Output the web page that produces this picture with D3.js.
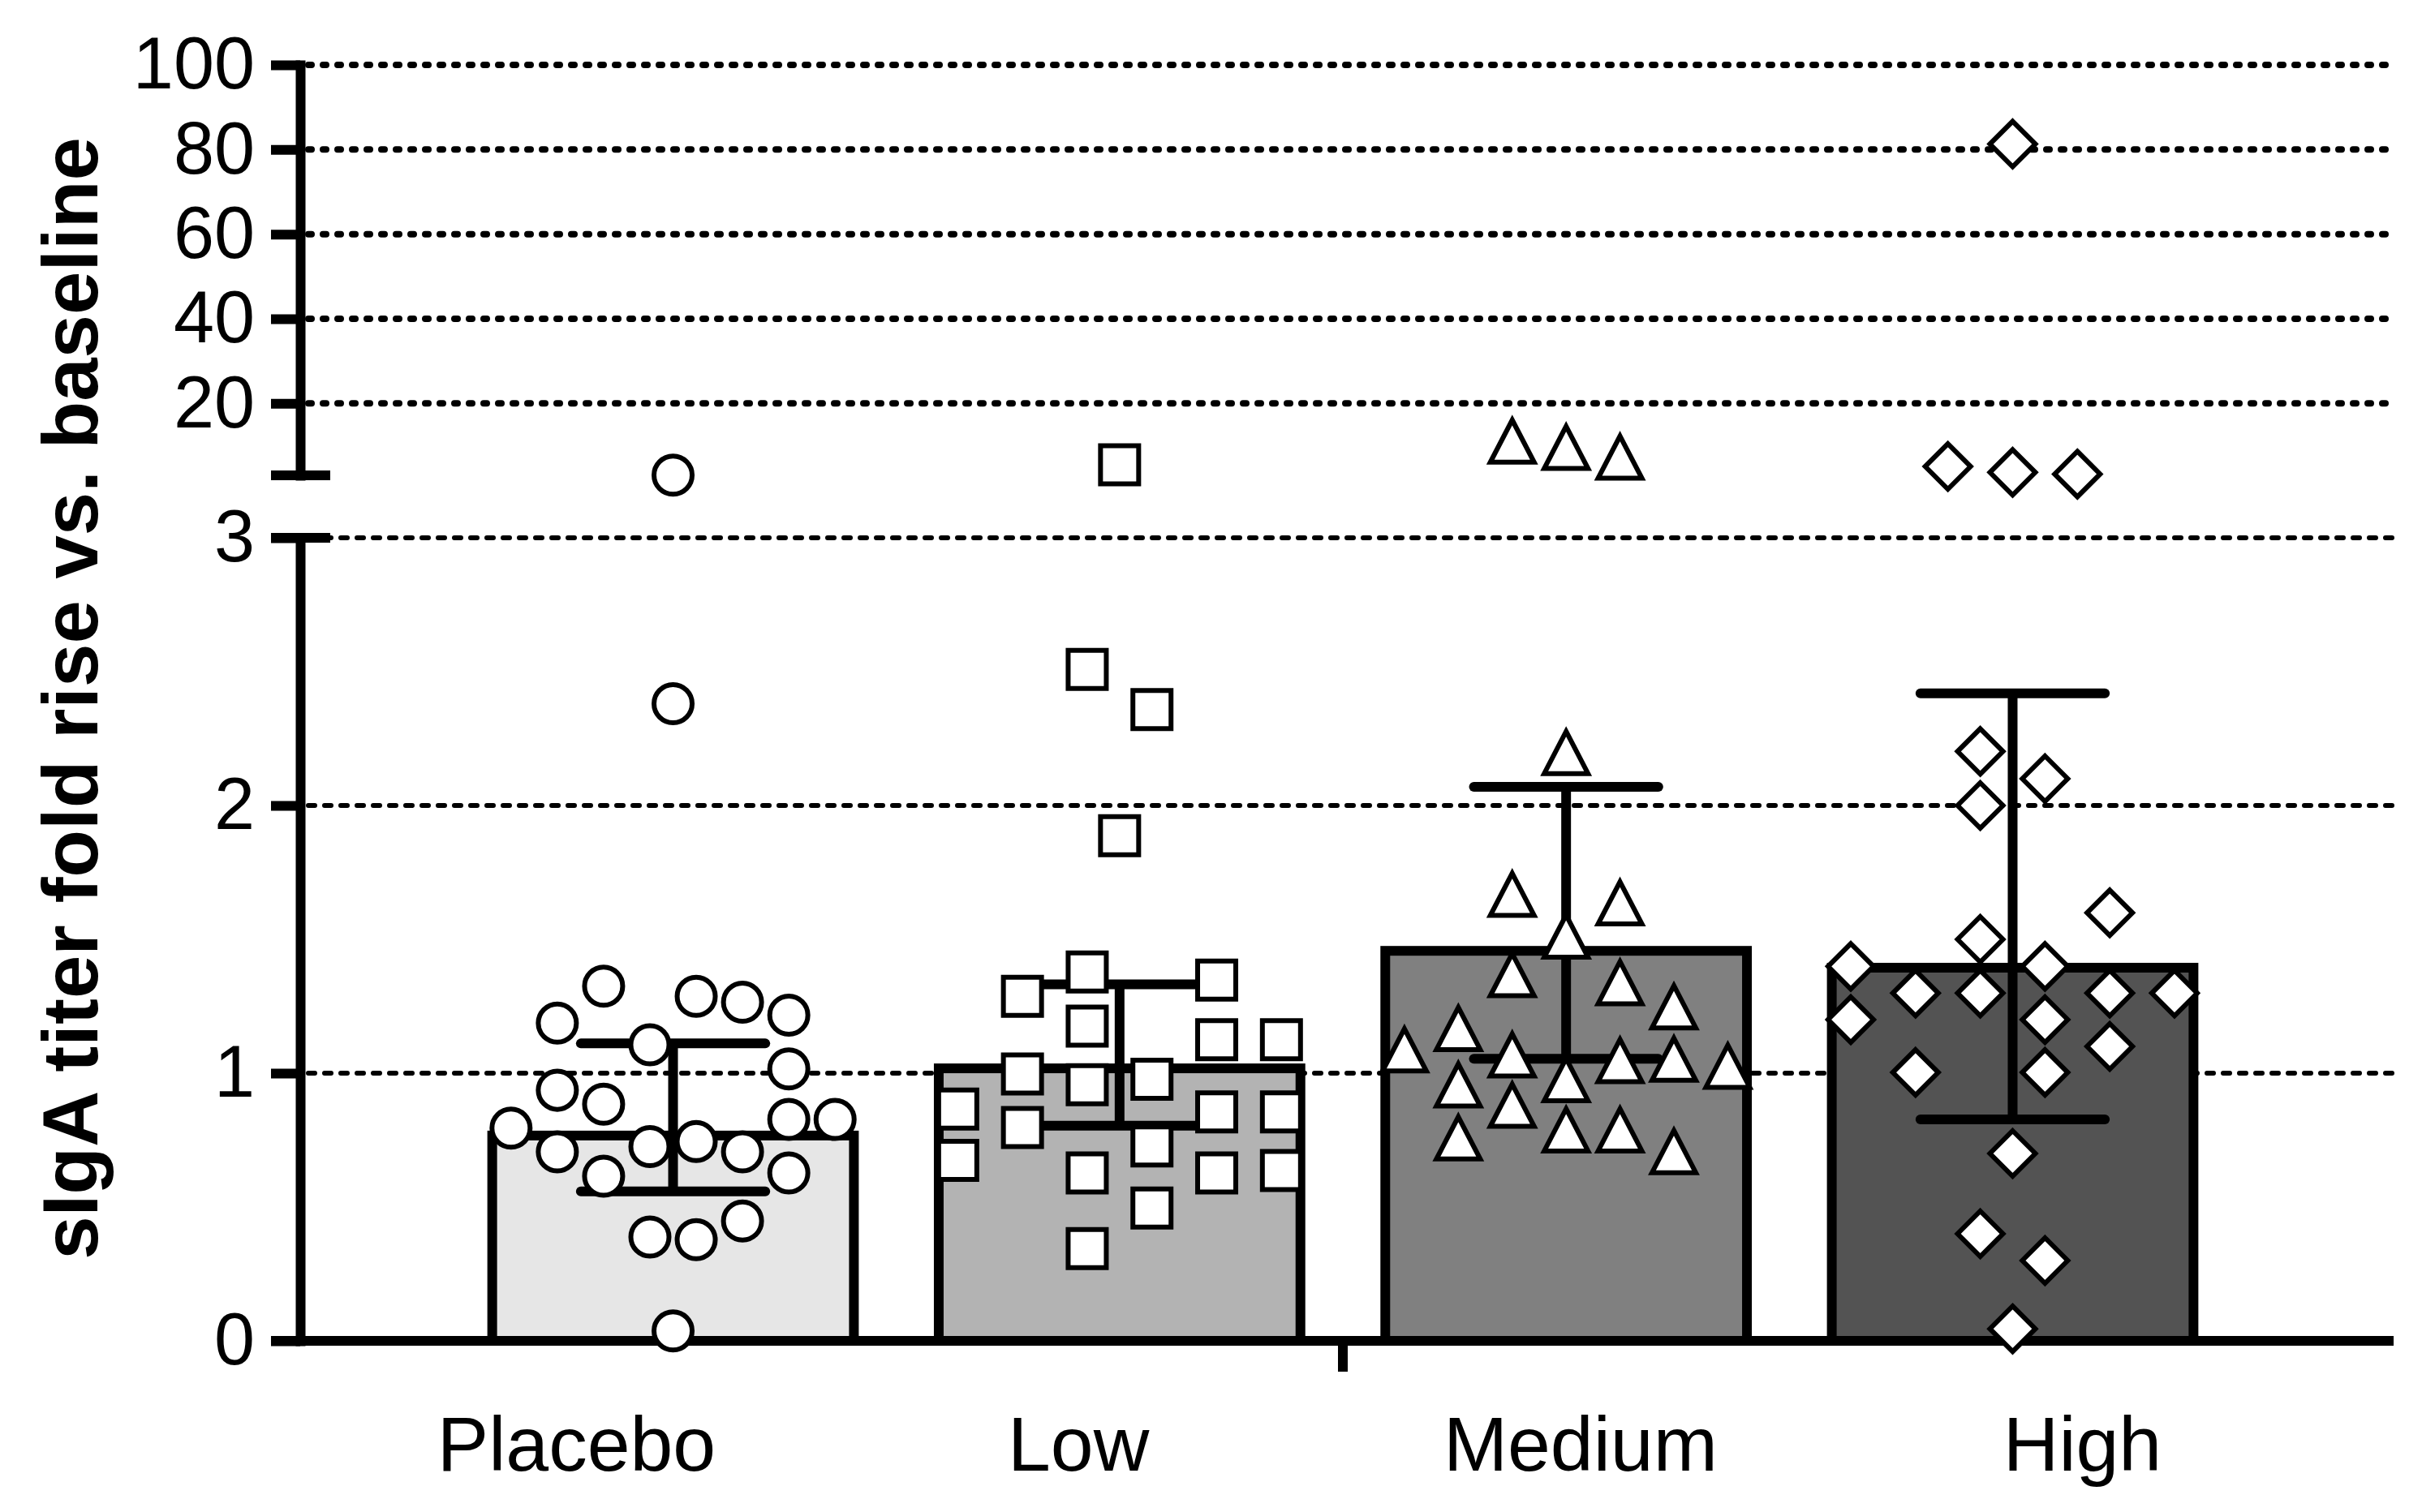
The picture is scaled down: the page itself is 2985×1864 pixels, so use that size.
<!DOCTYPE html>
<html>
<head>
<meta charset="utf-8">
<title>sIgA titer fold rise vs. baseline</title>
<script src="https://d3js.org/d3.v7.min.js"></script>
<style>
body { margin: 0; background: #fff; }
text { font-family: "Liberation Sans", Arial, Helvetica, sans-serif; fill: #000; }
</style>
</head>
<body>
<div id="chart"></div>
<script>
// groups and bar summary (mean, SD range)
var groups = ["Placebo", "Low", "Medium", "High"];
var barMeans = [0.767, 1.018, 1.457, 1.394];
var errLow = [0.558, 0.804, 1.054, 0.827];
var errHigh = [1.111, 1.332, 2.070, 2.419];

// single subjects: fold rise and the column it sits in within the scatter
var placeboVals = [1.325, 1.187, 1.287, 1.265, 1.217, 1.106, 1.016, 0.936, 0.884, 0.795, 0.827, 0.827,
                   0.706, 0.726, 0.745, 0.706, 0.615, 0.627, 0.388, 0.378, 0.448, 0.037, 2.38, 3.05];
var placeboCols = [-1.5, -2.5, 0.5, 1.5, 2.5, -0.5, 2.5, -2.5, -1.5, -3.5, 2.5, 3.5,
                   -2.5, -0.5, 0.5, 1.5, -1.5, 2.5, -0.5, 0.5, 1.5, 0, 0, 0];

var lowVals = [1.378, 1.287, 1.348, 1.176, 1.125, 1.125, 0.997, 0.957, 0.977, 0.866, 0.855, 0.855,
               0.797, 0.674, 0.728, 0.627, 0.627, 0.636, 0.496, 0.345, 1.887, 2.358, 2.508, 5.5];
var lowCols = [-0.5, -1.5, 1.5, -0.5, 1.5, 2.5, -1.5, -0.5, 0.5, -2.5, 1.5, 2.5,
               -1.5, -2.5, 0.5, -0.5, 1.5, 2.5, 0.5, -0.5, 0, 0.5, -0.5, 0];

var mediumVals = [2.198, 1.668, 1.636, 1.512, 1.368, 1.338, 1.248, 1.167, 1.087, 1.068, 1.047, 1.052,
                  0.976, 1.026, 0.956, 0.880, 0.758, 0.788, 0.788, 0.707, 11.1, 9.6, 7.3];
var mediumCols = [0, -1, 1, 0, -1, 1, 2, -2, -3, -1, 1, 2,
                  0, 3, -2, -1, -2, 0, 1, 2, -1, 0, 1];

var highVals = [2.202, 2.10, 2.00, 1.599, 1.50, 1.399, 1.399, 1.299, 1.299, 1.299, 1.299, 1.20,
                1.20, 1.10, 1.003, 1.003, 0.70, 0.40, 0.30, 0.045, 81.3, 5.1, 3.7, 3.3];
var highCols = [-0.5, 0.5, -0.5, 1.5, -0.5, -2.5, 0.5, -1.5, -0.5, 1.5, 2.5, -2.5,
                0.5, 1.5, -1.5, 0.5, 0, -0.5, 0.5, 0, 0, -1, 0, 1];

var lowerTicks = [0, 1, 2, 3];
var upperTicks = [20, 40, 60, 80, 100];

// look of each group
var barFills = ["#e6e6e6", "#b3b3b3", "#808080", "#535353"];
var shapes = ["circle", "square", "triangle", "diamond"];
var colStep = [0.128, 0.179, 0.149, 0.179]; // column spacing as part of bar width

var W = 2985, H = 1864;
var axisX = 370, plotRight = 2950;

var svg = d3.select("#chart").append("svg")
    .attr("width", W)
    .attr("height", H)
    .style("background", "#fff");

// broken y axis: two linear pieces
var yLow = d3.scaleLinear().domain([0, 3]).range([1653, 663]);
var yHigh = d3.scaleLinear().domain([3, 100]).range([586, 80]);
function yPos(v) { return v <= 3 ? yLow(v) : yHigh(v); }

var x = d3.scaleBand().domain(groups).range([axisX, 2940])
    .paddingInner(0.19).paddingOuter(0.43);
var xLab = d3.scalePoint().domain(groups).range([710, 2566]);
var bw = x.bandwidth();

// grid lines
svg.append("g").selectAll("line").data(lowerTicks.slice(1)).enter().append("line")
    .attr("x1", axisX + 10).attr("x2", plotRight)
    .attr("y1", function(d) { return yLow(d); })
    .attr("y2", function(d) { return yLow(d); })
    .attr("stroke", "#000").attr("stroke-width", 6)
    .attr("stroke-dasharray", "8,12").attr("stroke-linecap", "round");
svg.append("g").selectAll("line").data(upperTicks).enter().append("line")
    .attr("x1", axisX + 10).attr("x2", plotRight)
    .attr("y1", function(d) { return yHigh(d); })
    .attr("y2", function(d) { return yHigh(d); })
    .attr("stroke", "#000").attr("stroke-width", 8)
    .attr("stroke-dasharray", "4,14").attr("stroke-linecap", "round");

// bars
svg.append("g").selectAll("rect").data(groups).enter().append("rect")
    .attr("x", function(d) { return x(d); })
    .attr("width", bw)
    .attr("y", function(d, i) { return yLow(barMeans[i]); })
    .attr("height", function(d, i) { return yLow(0) - yLow(barMeans[i]); })
    .attr("fill", function(d, i) { return barFills[i]; })
    .attr("stroke", "#000").attr("stroke-width", 12);

// error bars
var eb = svg.append("g").attr("stroke", "#000").attr("stroke-width", 12);
groups.forEach(function(g, i) {
  var cx = x(g) + bw / 2, half = bw * 0.255;
  eb.append("line").attr("x1", cx).attr("x2", cx)
    .attr("y1", yLow(errLow[i])).attr("y2", yLow(errHigh[i]));
  [errLow[i], errHigh[i]].forEach(function(v) {
    eb.append("line").attr("x1", cx - half).attr("x2", cx + half)
      .attr("y1", yLow(v)).attr("y2", yLow(v))
      .attr("stroke-linecap", "round");
  });
});

// axes
var axLow = svg.append("g").attr("transform", "translate(" + axisX + ",0)")
    .call(d3.axisLeft(yLow).tickValues(lowerTicks).tickFormat(d3.format("d"))
      .tickSize(36).tickSizeOuter(0).tickPadding(20));
var axHigh = svg.append("g").attr("transform", "translate(" + axisX + ",0)")
    .call(d3.axisLeft(yHigh).tickValues(upperTicks).tickFormat(d3.format("d"))
      .tickSize(36).tickSizeOuter(0).tickPadding(20));
[axLow, axHigh].forEach(function(a) {
  a.select(".domain").attr("stroke-width", 12).attr("stroke-linecap", "square");
  a.selectAll(".tick line").attr("stroke-width", 12);
  a.selectAll(".tick text").style("font-size", "90px")
    .style("font-family", "'Liberation Sans', Arial, sans-serif");
});

// caps at the axis break
svg.append("g").selectAll("line").data([yHigh(3), yLow(3)]).enter().append("line")
    .attr("x1", axisX - 36).attr("x2", axisX + 37)
    .attr("y1", function(d) { return d; }).attr("y2", function(d) { return d; })
    .attr("stroke", "#000").attr("stroke-width", 12);

// x axis line and the tick between Low and Medium
svg.append("line")
    .attr("x1", axisX - 36).attr("x2", plotRight)
    .attr("y1", yLow(0)).attr("y2", yLow(0))
    .attr("stroke", "#000").attr("stroke-width", 12);
var midX = (x("Low") + x("Medium") + bw) / 2;
svg.append("line")
    .attr("x1", midX).attr("x2", midX)
    .attr("y1", yLow(0)).attr("y2", yLow(0) + 38)
    .attr("stroke", "#000").attr("stroke-width", 12);

// category labels
var axBottom = svg.append("g").attr("transform", "translate(0," + yLow(0) + ")")
    .call(d3.axisBottom(xLab).tickSize(0).tickPadding(93));
axBottom.select(".domain").remove();
axBottom.selectAll(".tick text").style("font-size", "95px")
    .style("font-family", "'Liberation Sans', Arial, sans-serif");

// y title
svg.append("text")
    .attr("transform", "translate(120,861) rotate(-90)")
    .attr("text-anchor", "middle")
    .style("font-size", "96px").style("font-weight", "bold")
    .text("sIgA titer fold rise vs. baseline");

// symbols
function symbolPath(shape) {
  var p = d3.path();
  if (shape == "circle") {
    p.arc(0, 0, 23.5, 0, 2 * Math.PI);
  } else if (shape == "square") {
    p.rect(-23.5, -23.5, 47, 47);
  } else if (shape == "triangle") {
    p.moveTo(0, -26); p.lineTo(27, 26); p.lineTo(-27, 26); p.closePath();
  } else {
    p.moveTo(0, -28); p.lineTo(28, 0); p.lineTo(0, 28); p.lineTo(-28, 0); p.closePath();
  }
  return p.toString();
}

var allVals = [placeboVals, lowVals, mediumVals, highVals];
var allCols = [placeboCols, lowCols, mediumCols, highCols];
var pts = svg.append("g");
groups.forEach(function(g, i) {
  var cx = x(g) + bw / 2;
  var colX = d3.scaleLinear().domain([0, 1]).range([cx, cx + bw * colStep[i]]);
  var rows = allVals[i].map(function(v, j) { return {v: v, c: allCols[i][j]}; });
  pts.append("g").selectAll("path").data(rows).enter().append("path")
    .attr("d", symbolPath(shapes[i]))
    .attr("transform", function(d) { return "translate(" + colX(d.c) + "," + yPos(d.v) + ")"; })
    .attr("fill", "#fff").attr("stroke", "#000").attr("stroke-width", 6)
    .attr("stroke-linejoin", "miter");
});
</script>
</body>
</html>
